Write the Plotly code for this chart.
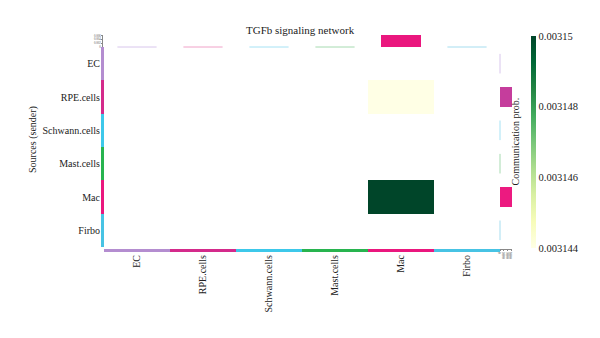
import plotly.graph_objects as go

# ---------------- data ----------------
cell_types = ["EC", "RPE.cells", "Schwann.cells", "Mast.cells", "Mac", "Firbo"]
# communication probability matrix: rows = sources (sender), cols = targets (receiver)
prob = [
    [0, 0, 0, 0, 0.0,      0],
    [0, 0, 0, 0, 0.003144, 0],
    [0, 0, 0, 0, 0.0,      0],
    [0, 0, 0, 0, 0.0,      0],
    [0, 0, 0, 0, 0.00315,  0],
    [0, 0, 0, 0, 0.0,      0],
]
cell_colors = ["#b48dd0", "#d42a8b", "#3dc8ea", "#28b44f", "#ea177e", "#47c3e4"]
cell_colors_light = ["#d8c6ec", "#f0a2c8", "#a6e2f4", "#a6dab0", "#f6a6c8", "#a6ddef"]
row_bar_colors = ["#b48dd0", "#c53d9c", "#3dc8ea", "#28b44f", "#ec1a80", "#47c3e4"]
cbar_ticks = [0.003144, 0.003146, 0.003148, 0.00315]
cbar_ticktext = ["0.003144", "0.003146", "0.003148", "0.00315"]
top_ticks = [0, 0.002, 0.004, 0.006]
right_ticks = [0, 0.001, 0.002, 0.003]

title = "TGFb signaling network"
ylab = "Sources (sender)"
cbar_title = "Communication prob."

# ---------------- derived ----------------
n = len(cell_types)
z_disp = [[(v if v > 0 else None) for v in row] for row in prob]
row_sums = [sum(r) for r in prob]
col_sums = [sum(prob[i][j] for i in range(n)) for j in range(n)]

W, H = 600, 338
def px(x):
    return x / W
def py(y):
    return (H - y) / H

FONT = "Liberation Serif"
FS = 10

fig = go.Figure()

# main heatmap
fig.add_trace(go.Heatmap(
    z=z_disp, x=cell_types, y=cell_types, xaxis="x", yaxis="y",
    colorscale="YlGn", zmin=0.003144, zmax=0.00315, hoverongaps=False,
    colorbar=dict(
        x=px(531), xanchor="left", y=py(36), yanchor="top", xpad=0, ypad=0,
        len=212 / H, lenmode="fraction", thickness=5, thicknessmode="pixels",
        outlinewidth=0, tickvals=cbar_ticks, ticktext=cbar_ticktext,
        ticks="", tickfont=dict(family=FONT, size=10.5, color="#222"),
    ),
))

# left row annotation bars
fig.add_trace(go.Bar(
    x=[1] * n, y=cell_types, orientation="h", xaxis="x4", yaxis="y",
    width=1, marker=dict(color=cell_colors, line=dict(width=0)), showlegend=False,
))

# bottom column annotation bars
fig.add_trace(go.Bar(
    x=cell_types, y=[1] * n, xaxis="x", yaxis="y3",
    width=1, marker=dict(color=cell_colors, line=dict(width=0)), showlegend=False,
))

# top bar: column sums
fig.add_trace(go.Bar(
    x=cell_types, y=col_sums, xaxis="x", yaxis="y2", width=0.6,
    marker=dict(color=cell_colors, line=dict(width=0)), showlegend=False,
))
zc = [j for j in range(n) if col_sums[j] == 0]
fig.add_trace(go.Scatter(
    x=[cell_types[j] for j in zc], y=[col_sums[j] for j in zc], xaxis="x", yaxis="y2",
    mode="markers", showlegend=False, cliponaxis=False,
    marker=dict(symbol="line-ew", size=28, color=[cell_colors_light[j] for j in zc],
                line=dict(width=1, color=[cell_colors_light[j] for j in zc])),
))

# right bar: row sums
fig.add_trace(go.Bar(
    x=row_sums, y=cell_types, orientation="h", xaxis="x3", yaxis="y", width=0.6,
    marker=dict(color=row_bar_colors, line=dict(width=0)), showlegend=False,
))
zr = [i for i in range(n) if row_sums[i] == 0]
fig.add_trace(go.Scatter(
    x=[row_sums[i] for i in zr], y=[cell_types[i] for i in zr], xaxis="x3", yaxis="y",
    mode="markers", showlegend=False, cliponaxis=False,
    marker=dict(symbol="line-ns", size=14, color=[cell_colors_light[i] for i in zr],
                line=dict(width=1, color=[cell_colors_light[i] for i in zr])),
))

tiny = dict(family=FONT, size=3, color="#555")

fig.update_layout(
    width=W, height=H, margin=dict(l=0, r=0, t=0, b=0, autoexpand=False),
    paper_bgcolor="white", plot_bgcolor="rgba(0,0,0,0)",
    showlegend=False, bargap=0,
    font=dict(family=FONT, size=FS, color="#222"),
    xaxis=dict(domain=[px(104), px(500)], anchor="y3", type="category",
               categoryarray=cell_types, range=[-0.5, n - 0.5],
               showgrid=False, zeroline=False,
               showline=False, ticks="", tickangle=-90, automargin=False,
               tickfont=dict(family=FONT, size=FS, color="#222")),
    yaxis=dict(domain=[py(247), py(47)], anchor="x4", type="category",
               categoryarray=cell_types, range=[n - 0.5, -0.5], showgrid=False,
               zeroline=False, showline=False, ticks="", automargin=False,
               tickfont=dict(family=FONT, size=FS, color="#222")),
    xaxis4=dict(domain=[px(101), px(104)], anchor="y", range=[0, 1], automargin=False,
                showticklabels=False, showgrid=False, zeroline=False, ticks=""),
    yaxis3=dict(domain=[py(252), py(249)], anchor="x", range=[0, 1], automargin=False,
                showticklabels=False, showgrid=False, zeroline=False, ticks=""),
    yaxis2=dict(domain=[py(47), py(35)], anchor="free", position=px(102),
                range=[0, max(col_sums)], tickvals=top_ticks, automargin=False,
                ticktext=[str(t) if t else "0" for t in top_ticks],
                showgrid=False, zeroline=False, showline=True, linewidth=0.5,
                linecolor="#888", ticks="outside", ticklen=1, tickwidth=0.5,
                tickcolor="#888", tickfont=tiny),
    xaxis3=dict(domain=[px(500), px(512)], anchor="free", position=py(249),
                range=[0, max(row_sums)], tickvals=right_ticks, automargin=False,
                ticktext=[str(t) if t else "0" for t in right_ticks],
                showgrid=False, zeroline=False, showline=True, linewidth=0.5,
                linecolor="#888", ticks="outside", ticklen=1, tickwidth=0.5,
                tickcolor="#888", tickangle=-90, tickfont=tiny),
    annotations=[
        dict(text=title, x=px(300), y=py(22), xref="paper", yref="paper",
             showarrow=False, font=dict(family=FONT, size=11, color="#222")),
        dict(text=ylab, x=px(25), y=py(140), xref="paper", yref="paper",
             showarrow=False, textangle=-90,
             font=dict(family=FONT, size=FS, color="#222")),
        dict(text=cbar_title, x=px(522), y=py(142), xref="paper", yref="paper",
             showarrow=False, textangle=-90,
             font=dict(family=FONT, size=FS, color="#222")),
    ],
)

fig.write_html("out.html")
